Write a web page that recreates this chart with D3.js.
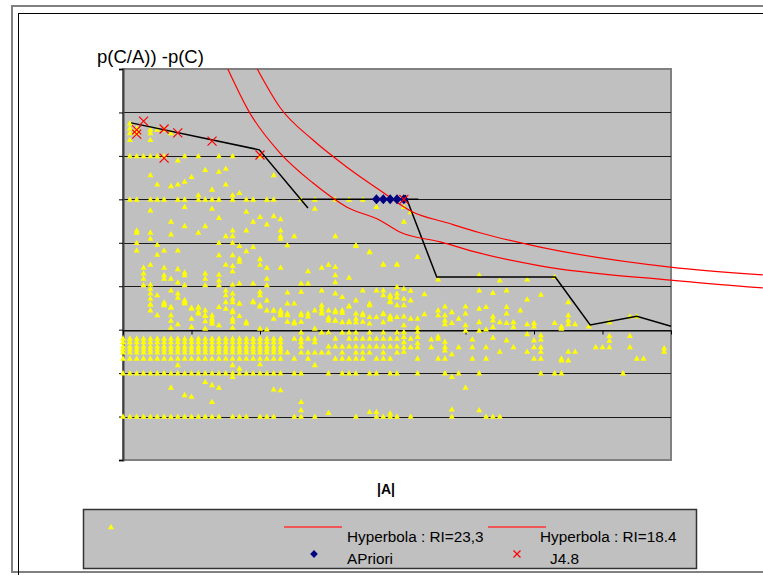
<!DOCTYPE html>
<html>
<head>
<meta charset="utf-8">
<script src="https://cdn.jsdelivr.net/npm/d3@7/dist/d3.min.js"></script>
<style>
	html, body { margin: 0; padding: 0; background: #fff; }
	svg { display: block; font-family: 'Liberation Sans', Arial, sans-serif; }
</style>
</head>
<body>
<div id="chart"></div>
<script>

// Axis ranges and ticks (|A| on x, p(C/A) - p(C) on y)
var xDomain = [0, 80];
var xTicks = [0, 10, 20, 30, 40, 50, 60, 70, 80];
var yDomain = [-0.3, 0.6];
var yTicks = [-0.3, -0.2, -0.1, 0, 0.1, 0.2, 0.3, 0.4, 0.5, 0.6];

// Yellow points laid on horizontal rows: [y, [x, x, ...]]
var bandCols = [0,1,2,3,4,5,6,7,8,9,10,11,12,13,14,15,16,17,18,19,20,21,22,23];
var yellowRows = [
	[0.4, [1,2,3,4,5,6,9,11,14,16,20]],
	[0.3, [1,2,4,5,6,8,9,11,12,13,14,16,18,19,21,22,26,28,31,33,35,37,39]],
	[0.2, [2,14,16]],
	[-0.006, [26,29,30,32,33,34,36,38,40]],
	[-0.02, bandCols.concat([25,26,27,28,31,33,34,35,36,37,38,39,40])],
	[-0.028, bandCols.concat([26,28])],
	[-0.038, bandCols.concat([26,30,31,32,33,34,35,36,37,38,39,40])],
	[-0.045, bandCols],
	[-0.052, bandCols.concat([24,26,27,28,29,30,32,34,35,36,38,40])],
	[-0.066, bandCols.concat([25,27,31,32,33,34,35,37,38,39])],
	[-0.1, [0,1,2,3,4,5,6,7,8,9,10,11,12,13,14,15,16,17,18,19,20,21,22,23,25,26,30,32,33,34,36,37,39,40,43,47,49,52,61,63,64,73]],
	[-0.2, [0,1,2,3,4,5,6,7,8,9,10,11,12,13,14,16,17,18,20,21,22,25,26,28,34,37,38,39,40,42,48,53,54,55]]
];

// Yellow points off the rows: [x, y]
var yellowPts = [
	[1,.475],[1,.464],[1,.453],[1,.437],[2,.464],[2,.453],[4,.461],[4,.453],[4,.437],[5,.461],[6,.461],[7,.453],[8,.39],
	[4,.356],[5,.335],[7,.331],[8,.335],[9,.341],[10,.352],[12,.368],[13,.323],[14,.364],[15,.371],[15,.335],[22,.356],[11,.31],[16,.31],[17,.315],[28,.279],
	[37,.283],[41,.283],[42,.271],[41,.249],[43,.168],[34,.195],[36,.179],
	[4,.275],[9,.283],[13,.279],[18,.272],[14,.258],[7,.249],[19,.249],[20,.26],[22,.262],[23,.255],[9,.239],[12,.239],[16,.229],[18,.229],[21,.243],
	[2,.229],[2,.224],[4,.224],[4,.21],[7,.22],[11,.224],[15,.216],[16,.216],[23,.229],[23,.216],[23,.21],[25,.216],[31,.216],
	[5,.196],[17,.193],[19,.191],[24,.195],[34,.193],[2,.183],[6,.183],[8,.183],[18,.181],[36,.18],[5,.173],[14,.172],[16,.172],[17,.164],[17,.157],
	[20,.163],[20,.15],[4,.15],[15,.15],[16,.147],
	[3,.143],[3,.13],[3,.118],[3,.103],[6,.143],[6,.126],[6,.118],[8,.14],[7,.118],[8,.109],[9,.132],[9,.126],[9,.103],[12,.13],[12,.118],[12,.103],
	[14,.127],[14,.114],[14,.103],[16,.135],[16,.104],[21,.143],[21,.118],[21,.103],[23,.143],[27,.135],[29,.143],[30,.15],[31,.145],[31,.126],[31,.11],
	[33,.12],[38,.15],[40,.15],[26,.107],[27,.107],[17,.107],[19,.107],
	[4,.104],[4,.095],[4,.084],[4,.072],[4,.058],[4,.045],[5,.08],[6,.063],[6,.057],[7,.091],[7,.051],[8,.084],[8,.074],[9,.068],[9,.063],[10,.051],
	[11,.051],[11,.042],[12,.045],[12,.032],[12,.02],[13,.034],[13,.02],[15,.091],[15,.08],[15,.064],[15,.049],[16,.084],[16,.072],[16,.045],[16,.019],
	[17,.061],[17,.032],[18,.019],[19,.066],[20,.088],[20,.08],[20,.057],[21,.068],[21,.045],[22,.045],[22,.026],[23,.045],[23,.038],
	[24,.086],[24,.061],[24,.038],[24,.019],[25,.061],[25,.019],[26,.088],[26,.038],[26,.019],[27,.038],[28,.045],[29,.091],[29,.057],[29,.042],
	[30,.045],[30,.028],[31,.084],[31,.045],[31,.022],[32,.045],[32,.076],[33,.055],[33,.02],[34,.068],[34,.038],[34,.026],[35,.091],[35,.038],[35,.019],
	[36,.061],[36,.057],[37,.091],[37,.03],[38,.08],[38,.038],[39,.076],[39,.066],[39,.03],[40,.099],[40,.084],[40,.057],[41,.095],[41,.072],[41,.057],[41,.011],
	[4,.059],[6,.059],[9,.068],[9,.061],[7,.053],[7,.034],[7,.021],[7,.005],[10,.049],[10,.026],[10,.007],[11,.053],[11,.038],[12,.034],[12,.003],
	[13,.026],[13,.015],[14,.053],[14,.011],[5,.034],[8,.013],[16,.064],[16,.041],[16,.026],[16,.005],[17,.061],[18,.015],[19,.064],[20,.054],[20,.003],
	[21,.001],[22,.045],[23,.041],[23,.034],[24,.034],[25,.015],[26,.034],[27,.031],[28,.003],[29,.049],[29,.038],[30,.022],[31,.041],[31,.021],
	[32,.039],[32,.018],[33,.054],[33,.018],[34,.018],[35,.034],[36,.03],[36,.015],[38,.036],[38,.018],[39,.064],[39,.026],
	[38,.151],[40,.151],[43,.168],[46,.116],[52,.126],[55,.114],[59,.116],[63,.122],[38,.091],[40,.075],[39,.08],[39,.067],[42,.09],[42,.068],[44,.082],
	[52,.091],[54,.085],[56,.091],[59,.07],[61,.081],[65,.064],[39,.032],[39,.024],[40,.03],[41,.031],[42,.026],[43,.026],[43,.005],[44,.036],
	[46,.045],[46,.034],[47,.054],[47,.034],[47,.022],[47,.013],[48,.041],[48,.016],[49,.026],[50,.054],[50,.038],[50,.011],[52,.049],[52,.018],[53,.053],
	[54,.031],[54,.022],[54,.007],[55,.018],[56,.053],[56,.038],[56,.016],[57,.018],[57,.007],[58,.045],[59,.013],[60,.016],[60,.008],[63,.016],
	[64,.008],[64,.003],[65,.034],[65,.022],[65,.013],[66,.013],[68,.008],[71,.018],[74,.031],[75,.031],
	[41,-.005],[41,-.016],[41,-.028],[41,-.04],[41,-.05],[42,-.02],[42,-.04],[43,-.004],[43,-.016],[43,-.03],[43,-.04],[43,-.066],
	[45,-.022],[45,-.04],[46,-.015],[46,-.02],[46,-.066],[47,-.027],[47,-.039],[47,-.047],[47,-.066],[48,-.056],[49,-.04],[50,-.002],
	[51,-.022],[51,-.04],[51,-.066],[52,-.002],[53,.001],[53,-.04],[53,-.066],[54,-.018],[55,-.05],[56,-.024],[57,-.04],[59,-.01],[59,-.05],
	[60,-.024],[60,-.04],[60,-.066],[61,-.012],[61,-.022],[61,-.04],[61,-.05],[61,-.066],[64,-.066],[64,-.07],[65,-.05],[65,-.07],[66,-.05],
	[69,-.04],[70,-.04],[71,-.014],[71,-.025],[71,-.04],[74,-.014],[74,-.04],[75,-.066],[76,-.066],[79,-.05],[79,-.042],
	[8,-.081],[16,-.081],[16,-.108],[17,-.089],[20,-.079],[28,-.081],[48,-.108],[50,-.133],[48,-.183],[52,-.185],
	[7,-.133],[9,-.15],[10,-.154],[12,-.12],[13,-.127],[13,-.166],[14,-.133],[22,-.137],[23,-.139],[26,-.166],[26,-.185],
	[30,-.191],[36,-.189],[37,-.189],[39,-.192]
];

// Black polyline, drawn in pieces as in the original
var blackLine = [
	[[1.2,.476],[19.9,.414],[27,.28]],
	[[26.1,.3],[43.1,.3]],
	[[41.2,.31],[45.8,.121],[63.1,.121],[68.2,.011],[75,.031],[80,.008]]
];

// Hyperbolas: [x, y]
var hyperA = [[15.3,.6],[18.5,.499],[22.9,.407],[27.7,.338],[32.7,.282],[37.5,.252],[40.4,.225],[46.3,.202],[52.1,.176],[60.9,.147],[79.9,.114],[93.4,.096]];
var hyperB = [[19.6,.6],[22.9,.512],[27.7,.437],[32.7,.374],[37.5,.321],[42.3,.271],[47.3,.246],[52.1,.223],[60.9,.19],[79.9,.144],[93.4,.126]];

// APriori and J4.8 points
var aprioriX = [37, 38, 39, 40, 41];
var aprioriY = 0.3;
var j48Pts = [[3,.48],[2,.46],[2,.45],[6,.462],[8,.453],[13,.434],[20,.402],[6,.395],[41,.3]];

var legendLabels = ['Hyperbola : RI=23,3', 'Hyperbola : RI=18.4', 'APriori', 'J4.8'];

/**
 * Draws the chart
 */
var createChart = function() {

	var width = 763, height = 575;
	var left = 123, right = 671, top = 69, bottom = 460;

	var svg = d3.select('#chart').append('svg')
			.attr('width', width)
			.attr('height', height);

	// 1. Outer frames
	svg.append('rect').attr('x', 12).attr('y', 6).attr('width', 800).attr('height', 566)
			.attr('fill', 'none').attr('stroke', '#808080').attr('stroke-width', 2);
	svg.append('rect').attr('x', 18.5).attr('y', 13.5).attr('width', 800).attr('height', 600)
			.attr('fill', 'none').attr('stroke', '#000').attr('stroke-width', 1);

	var x = d3.scaleLinear().domain(xDomain).range([left, right]);
	var y = d3.scaleLinear().domain(yDomain).range([bottom, top]);

	// 2. Plot area and gridlines
	svg.append('rect').attr('x', left).attr('y', top).attr('width', right - left).attr('height', bottom - top)
			.attr('fill', '#c0c0c0').attr('stroke', '#808080').attr('stroke-width', 2);

	svg.append('g').selectAll('line').data(yTicks.slice(1, -1)).enter().append('line')
			.attr('x1', left).attr('x2', right)
			.attr('y1', function(d) { return Math.round(y(d)) + 0.5; })
			.attr('y2', function(d) { return Math.round(y(d)) + 0.5; })
			.attr('stroke', '#1a1a1a').attr('stroke-width', 1);

	// y axis with outside ticks, no labels
	var yAxis = svg.append('g').attr('transform', 'translate(' + left + ',0)')
			.call(d3.axisLeft(y).tickValues(yTicks).tickSize(4).tickFormat(''));
	yAxis.select('.domain').attr('stroke', '#404040').attr('stroke-width', 2);
	yAxis.selectAll('.tick line').attr('stroke', '#000');

	// x axis crossing at 0, ticks pointing down
	var xAxis = svg.append('g').attr('transform', 'translate(0,' + (Math.round(y(0)) + 0.5) + ')')
			.call(d3.axisBottom(x).tickValues(xTicks).tickSize(4).tickSizeOuter(0).tickFormat(''));
	xAxis.select('.domain').attr('stroke', '#000').attr('stroke-width', 1);
	xAxis.selectAll('.tick line').attr('stroke', '#000');

	// 3. Yellow triangles
	var yellow = [];
	yellowRows.forEach(function(r) {
		r[1].forEach(function(v) { yellow.push([v, r[0]]); });
	});
	yellow = yellow.concat(yellowPts);

	var tri = 'M0,-3L3,2.3L-3,2.3Z';
	svg.append('g').selectAll('path').data(yellow).enter().append('path')
			.attr('d', tri)
			.attr('transform', function(d) { return 'translate(' + x(d[0]) + ',' + y(d[1]) + ')'; })
			.attr('fill', '#ffff00');

	// 4. Black line
	var line = d3.line().x(function(d) { return x(d[0]); }).y(function(d) { return y(d[1]); });
	svg.append('g').selectAll('path').data(blackLine).enter().append('path')
			.attr('d', line)
			.attr('fill', 'none').attr('stroke', '#000').attr('stroke-width', 1.5);

	// 5. Hyperbolas
	var curve = d3.line().x(function(d) { return x(d[0]); }).y(function(d) { return y(d[1]); }).curve(d3.curveMonotoneX);
	[hyperA, hyperB].forEach(function(h) {
		svg.append('path').datum(h)
				.attr('d', curve)
				.attr('fill', 'none').attr('stroke', '#ff0000').attr('stroke-width', 1.2);
	});

	// 6. APriori diamonds
	var diamond = 'M0,-5L4.5,0L0,5L-4.5,0Z';
	svg.append('g').selectAll('path').data(aprioriX).enter().append('path')
			.attr('d', diamond)
			.attr('transform', function(d) { return 'translate(' + x(d) + ',' + y(aprioriY) + ')'; })
			.attr('fill', '#000080');

	// 7. J4.8 crosses
	var cross = 'M-4.5,-4.5L4.5,4.5M4.5,-4.5L-4.5,4.5';
	svg.append('g').selectAll('path').data(j48Pts).enter().append('path')
			.attr('d', cross)
			.attr('transform', function(d) { return 'translate(' + x(d[0]) + ',' + y(d[1]) + ')'; })
			.attr('fill', 'none').attr('stroke', '#ff0000').attr('stroke-width', 1.2);

	// 8. Titles
	svg.append('text').attr('x', 97).attr('y', 63)
			.style('font-size', '18.5px').attr('fill', '#000')
			.text('p(C/A)) -p(C)');

	svg.append('text').attr('x', 386).attr('y', 494).attr('text-anchor', 'middle')
			.style('font-size', '14px').style('font-weight', 'bold').attr('fill', '#000')
			.text('|A|');

	// 9. Legend
	var lg = svg.append('g');
	lg.append('rect').attr('x', 83.5).attr('y', 509.5).attr('width', 613).attr('height', 59)
			.attr('fill', '#c0c0c0').attr('stroke', '#333').attr('stroke-width', 1.5);

	lg.append('path').attr('d', tri).attr('transform', 'translate(111,527)').attr('fill', '#ffff00');

	var legendLines = [[284, 342], [488, 546]];
	lg.selectAll('line.key').data(legendLines).enter().append('line')
			.attr('class', 'key')
			.attr('x1', function(d) { return d[0]; }).attr('x2', function(d) { return d[1]; })
			.attr('y1', 527).attr('y2', 527)
			.attr('stroke', '#ff3333').attr('stroke-width', 1.5);

	lg.append('path').attr('d', 'M0,-4L3.8,0L0,4L-3.8,0Z').attr('transform', 'translate(314,554)').attr('fill', '#000080');
	lg.append('path').attr('d', 'M-3.5,-3.5L3.5,3.5M3.5,-3.5L-3.5,3.5').attr('transform', 'translate(517,554)')
			.attr('fill', 'none').attr('stroke', '#ff0000').attr('stroke-width', 1.2);

	var labelPos = [[347, 542], [540, 542], [347, 564], [550, 564]];
	lg.selectAll('text').data(legendLabels).enter().append('text')
			.attr('x', function(d, i) { return labelPos[i][0]; })
			.attr('y', function(d, i) { return labelPos[i][1]; })
			.style('font-size', '15.3px').attr('fill', '#000')
			.text(function(d) { return d; });
}

createChart();

</script>
</body>
</html>
